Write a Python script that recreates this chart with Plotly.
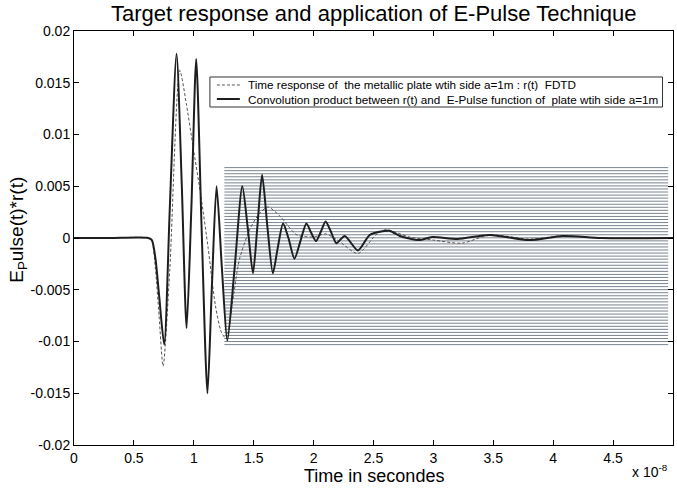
import numpy as np
import plotly.graph_objects as go

# time in units of 1e-8 s
t_conv = [0, 0.3, 0.62, 0.65, 0.68, 0.71, 0.753, 0.80, 0.856, 0.90, 0.94, 0.98, 1.02, 1.065, 1.114,
          1.15, 1.19, 1.235, 1.28, 1.34, 1.405, 1.45, 1.494, 1.53, 1.57, 1.615, 1.66, 1.70, 1.745,
          1.79, 1.84, 1.89, 1.94, 1.98, 2.02, 2.06, 2.10, 2.145, 2.19, 2.26, 2.37, 2.47, 2.63,
          2.72, 2.88, 2.99, 3.2, 3.47, 3.8, 4.08, 4.4, 5.0]
v_conv = [0, 0, 0, -0.0002, -0.002, -0.0055, -0.0103, 0.003, 0.0178, 0.005, -0.0087, 0.003, 0.0173,
          0.001, -0.0150, -0.005, 0.0050, -0.003, -0.0099, -0.003, 0.0050, 0.001, -0.0034, 0.001,
          0.0061, 0.001, -0.0034, -0.001, 0.0014, 0.0, -0.0020, -0.0003, 0.0014, 0.0005, -0.0003,
          0.0006, 0.0016, 0.0006, -0.0005, 0.0002, -0.0012, 0.0003, 0.0007, 0.0002, -0.0002,
          0.0001, -0.0001, 0.0003, -0.0002, 0.0002, 0.0, 0.0]

t_resp = [0, 0.3, 0.62, 0.65, 0.68, 0.71, 0.744, 0.80, 0.883, 0.94, 0.994, 1.06, 1.12, 1.18, 1.23,
          1.27, 1.33, 1.38, 1.47, 1.55, 1.62, 1.72, 1.86, 2.0, 2.1, 2.2, 2.37, 2.52, 2.6, 2.8, 3.0,
          3.24, 3.47, 3.8, 4.08, 4.4, 5.0]
v_resp = [0, 0, 0, -0.0003, -0.003, -0.0075, -0.0124, -0.003, 0.0162, 0.0128, 0.0088, 0.004,
          -0.001, -0.0065, -0.0091, -0.0097, -0.0057, -0.0021, 0.0009, 0.0024, 0.0030, 0.0021,
          0.0003, 0.0001, 0.0004, -0.0002, -0.0015, 0.0003, 0.0008, 0.0001, -0.0002, -0.0005,
          0.0003, -0.0001, 0.0002, 0.0, 0.0]

hatch_t = [1.255, 4.96]
hatch_v = [-0.0103, 0.0068]
hatch_count = 59

x_ticks = [0, 0.5, 1, 1.5, 2, 2.5, 3, 3.5, 4, 4.5, 5]
x_labels = ["0", "0.5", "1", "1.5", "2", "2.5", "3", "3.5", "4", "4.5", "5"]
y_ticks = [0.02, 0.015, 0.01, 0.005, 0, -0.005, -0.01, -0.015, -0.02]
y_labels = ["0.02", "0.015", "0.01", "0.005", "0", "-0.005", "-0.01", "-0.015", "-0.02"]

name_resp = "Time response of\u00a0 the metallic plate wtih side a=1m : r(t)\u00a0 FDTD"
name_conv = "Convolution product between r(t) and\u00a0 E-Pulse function of\u00a0 plate wtih side a=1m"

FONT = "Liberation Sans, Arial, sans-serif"
DASH_COLOR = "#555555"
SOLID_COLOR = "#1e1e1e"

fig = go.Figure()

# hatch lines
hx, hy = [], []
for v in np.linspace(hatch_v[0], hatch_v[1], hatch_count):
    hx += [hatch_t[0], hatch_t[1], None]
    hy += [v, v, None]
fig.add_trace(go.Scatter(x=hx, y=hy, mode="lines", line=dict(color="#7a8590", width=1),
                         showlegend=False, hoverinfo="skip"))

fig.add_trace(go.Scatter(x=t_resp, y=v_resp, mode="lines", name=name_resp, showlegend=False,
                         line=dict(color=DASH_COLOR, width=1, dash="3px,2px", shape="spline", smoothing=0.7)))
fig.add_trace(go.Scatter(x=t_conv, y=v_conv, mode="lines", name=name_conv, showlegend=False,
                         line=dict(color=SOLID_COLOR, width=2, shape="spline", smoothing=0.7)))

# custom legend (paper coordinates)
lx0, lx1, ly0, ly1 = 0.2269, 0.9825, 0.8164, 0.8889
row1, row2 = 0.8696, 0.8357
sx0, sx1, tx = 0.2385, 0.2769, 0.2869
shapes = [
    dict(type="rect", xref="paper", yref="paper", x0=lx0, x1=lx1, y0=ly0, y1=ly1,
         line=dict(color="#333333", width=1), fillcolor="white", layer="above"),
    dict(type="line", xref="paper", yref="paper", x0=sx0, x1=sx1, y0=row1, y1=row1,
         line=dict(color=DASH_COLOR, width=1, dash="3px,2px"), layer="above"),
    dict(type="line", xref="paper", yref="paper", x0=sx0, x1=sx1, y0=row2, y1=row2,
         line=dict(color=SOLID_COLOR, width=2), layer="above"),
]

annotations = [
    dict(text="Target response and application of E-Pulse Technique", x=0.5, y=1.043,
         xref="paper", yref="paper", xanchor="center", yanchor="middle", showarrow=False,
         font=dict(size=22, family=FONT)),
    dict(text="Time in secondes", x=0.5, y=-0.075, xref="paper", yref="paper",
         xanchor="center", yanchor="middle", showarrow=False, font=dict(size=18, family=FONT)),
    dict(text="x 10<sup>-8</sup>", x=0.962, y=-0.062, xref="paper", yref="paper",
         xanchor="center", yanchor="middle", showarrow=False, font=dict(size=14, family=FONT)),
    dict(text="E<sub>P</sub>ulse(t)*r(t)", x=-0.0934, y=0.52, xref="paper", yref="paper",
         xanchor="center", yanchor="middle", textangle=-90, showarrow=False,
         font=dict(size=19, family=FONT)),
    dict(text=name_resp, x=tx, y=row1, xref="paper", yref="paper", xanchor="left",
         yanchor="middle", showarrow=False, font=dict(size=11.7, family=FONT)),
    dict(text=name_conv, x=tx, y=row2, xref="paper", yref="paper", xanchor="left",
         yanchor="middle", showarrow=False, font=dict(size=11.7, family=FONT)),
]

fig.update_layout(
    width=677, height=489,
    margin=dict(l=74, r=3.5, t=31, b=44),
    paper_bgcolor="white", plot_bgcolor="white",
    font=dict(family=FONT, color="black", size=14),
    showlegend=False,
    shapes=shapes,
    annotations=annotations,
)

fig.update_xaxes(range=[0, 5], tickvals=x_ticks, ticktext=x_labels, ticks="inside", ticklen=5,
                 tickcolor="black", showline=True, linecolor="black", linewidth=1, mirror="ticks",
                 showgrid=False, zeroline=False, tickfont=dict(size=14), ticklabelstandoff=0)
fig.update_yaxes(range=[-0.02, 0.02], tickvals=y_ticks, ticktext=y_labels, ticks="inside", ticklen=5,
                 tickcolor="black", showline=True, linecolor="black", linewidth=1, mirror="ticks",
                 showgrid=False, zeroline=False, tickfont=dict(size=14), ticklabelstandoff=0)

fig.write_html("out.html")
